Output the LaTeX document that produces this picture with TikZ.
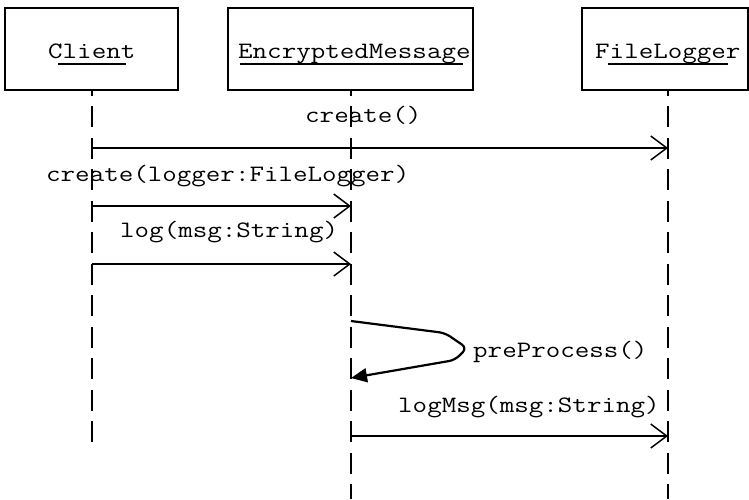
\documentclass[tikz,border=0pt]{standalone}
\usepackage{fontspec}
\setmonofont{Latin Modern Mono}[FakeStretch=1.2]
\usetikzlibrary{arrows.meta}
\begin{document}
\begin{tikzpicture}[x=1pt,y=-1pt,
  font=\ttfamily\fontsize{23.5}{28}\selectfont,
  objbox/.style={draw,line width=1.8pt,minimum height=82pt,inner sep=0pt},
  lifeline/.style={line width=2pt,dash pattern=on 21pt off 10.5pt,dash phase=15.5pt},
  msg/.style={line width=1.5pt,-{Straight Barb[length=16pt,width=24pt,line width=1.5pt]}},
  selfmsg/.style={line width=2.2pt,line join=round,rounded corners=6pt,-{Triangle[length=16pt,width=14pt]}},
  lbl/.style={anchor=base west,inner sep=0pt},
  ul/.style={line width=2pt}]
\useasboundingbox (0,0) rectangle (749,499);
% objects
\node[objbox,minimum width=173pt] (client) at (91.5,49) {};
\node[objbox,minimum width=245pt] (enc) at (350.5,49) {};
\node[objbox,minimum width=166pt] (flog) at (665,49) {};
\node[lbl] (clientt) at (48,58) {Client};
\node[lbl] (enct) at (238,58) {EncryptedMessage};
\node[lbl] (flogt) at (595,58) {FileLogger};
\draw[ul] (58,63.5) -- (126,63.5);
\draw[ul] (240,63.5) -- (463,63.5);
\draw[ul] (608,63.5) -- (728,63.5);
% lifelines
\coordinate (clTop) at (92,90);
\coordinate (clBot) at (92,442);
\coordinate (enTop) at (351,90);
\coordinate (enBot) at (351,499);
\coordinate (flTop) at (668,90);
\coordinate (flBot) at (668,499);
\draw[lifeline] (clTop) -- (clBot);
\draw[lifeline] (enTop) -- (enBot);
\draw[lifeline] (flTop) -- (flBot);
% message points
\coordinate (c1) at (92,148);  \coordinate (f1) at (668,148);
\coordinate (c2) at (92,206);  \coordinate (e2) at (351,206);
\coordinate (c3) at (92,264);  \coordinate (e3) at (351,264);
\coordinate (e4) at (351,321); \coordinate (e5) at (351,378);
\coordinate (e6) at (351,436); \coordinate (f6) at (668,436);
% messages
\node[lbl] (m1) at (305,122) {create()};
\draw[msg] (c1) -- (f1);
\node[lbl] (m2) at (46,181) {create(logger:FileLogger)};
\draw[msg] (c2) -- (e2);
\node[lbl] (m3) at (120,237) {log(msg:String)};
\draw[msg] (c3) -- (e3);
\draw[selfmsg] (e4) -- (445,333) -- (467,348) -- (455,360) -- (e5);
\node[lbl] (m4) at (473,357) {preProcess()};
\node[lbl] (m5) at (398,412) {logMsg(msg:String)};
\draw[msg] (e6) -- (f6);
\end{tikzpicture}
\end{document}
